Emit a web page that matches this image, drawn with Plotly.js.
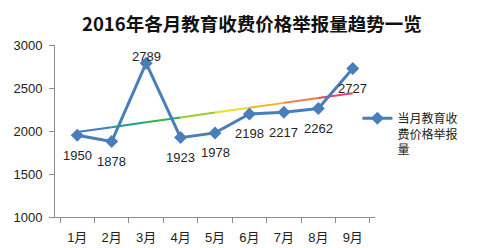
<!DOCTYPE html>
<html>
<head>
<meta charset="utf-8">
<script src="https://cdn.plot.ly/plotly-3.0.1.min.js"></script>
<style>html,body{margin:0;padding:0;background:#fff;}#chart{width:488px;height:248px;}</style>
</head>
<body>
<div id="chart"></div>
<script>
const months = ['1月','2月','3月','4月','5月','6月','7月','8月','9月'];
const reports = [1950, 1878, 2789, 1923, 1978, 2198, 2217, 2262, 2727];
// trend line (value at each month)
const trend = [1988, 2044, 2101, 2157, 2214, 2270, 2327, 2383, 2440];
const trendColors = ['#3a7ec0','#1f9e96','#2fb34a','#9ccc30','#ece021','#f5b324','#f07a45','#e8406a'];
const labelShift = [-20, -20, 7, -20, -20, -20, -20, -20, -20];
const seriesName = '当月教育收<br>费价格举报<br>量';

const FONT = "'Liberation Sans', 'Noto Sans CJK SC', sans-serif";
const CJK = "'Noto Sans CJK SC', sans-serif";
const traces = [];
for (let i = 0; i < months.length - 1; i++) {
  traces.push({
    x: [months[i], months[i+1]], y: [trend[i], trend[i+1]],
    mode: 'lines', type: 'scatter', showlegend: false, hoverinfo: 'skip',
    line: {color: trendColors[i], width: 2}
  });
}
traces.push({
  x: months, y: reports, mode: 'lines+markers', type: 'scatter', name: seriesName,
  line: {color: '#4a7ebb', width: 3},
  marker: {symbol: 'diamond', size: 10, color: '#4a7ebb'}
});

const annotations = months.map((m, i) => ({
  x: m, y: reports[i], text: String(reports[i]), showarrow: false,
  yshift: labelShift[i], font: {family: FONT, size: 13, color: '#262626'}
}));

const layout = {
  width: 488, height: 248,
  margin: {l: 55, r: 113, t: 45, b: 31},
  paper_bgcolor: '#fff', plot_bgcolor: '#fff',
  font: {family: FONT, size: 13, color: '#333'},
  title: {text: '2016年各月教育收费价格举报量趋势一览', x: 0.516, xanchor: 'center', y: 0.9, yanchor: 'middle',
          font: {family: CJK, size: 18.5, color: '#111', weight: 'bold'}},
  xaxis: {type: 'category', categoryarray: months, showgrid: false, zeroline: false,
          showline: true, linecolor: '#8c8c8c', linewidth: 1,
          ticks: 'outside', tickson: 'boundaries', ticklen: 5, tickcolor: '#8c8c8c',
          ticklabelstandoff: 8, tickfont: {family: FONT, size: 13, color: '#222'}},
  yaxis: {range: [1000, 3000], tickvals: [1000, 1500, 2000, 2500, 3000], showgrid: false, zeroline: false,
          showline: true, linecolor: '#8c8c8c', linewidth: 1,
          ticks: 'outside', ticklen: 5, tickcolor: '#8c8c8c',
          ticklabelstandoff: 4, tickfont: {family: FONT, size: 13, color: '#222'}},
  legend: {x: 0.945, xanchor: 'left', y: 0.657, yanchor: 'top', valign: 'top',
           font: {family: CJK, size: 12, color: '#222'},
           bgcolor: 'rgba(0,0,0,0)'},
  annotations: annotations,
  showlegend: true
};

Plotly.newPlot('chart', traces, layout, {displayModeBar: false, staticPlot: true});
</script>
</body>
</html>
